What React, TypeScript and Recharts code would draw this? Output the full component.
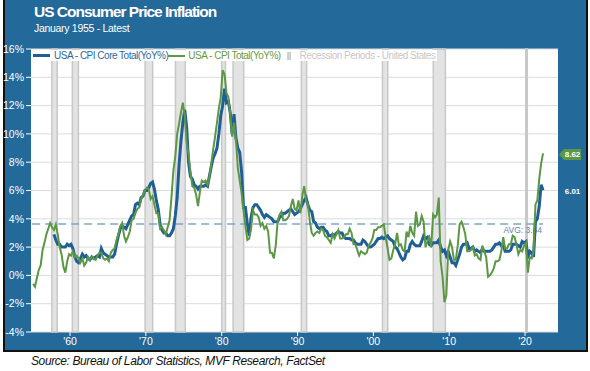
import React from 'react';
import { LineChart, Line, XAxis, YAxis, CartesianGrid, ReferenceArea, ReferenceLine } from 'recharts';

// Quarterly YoY % readings, first quarter of 1955 through May 2022
const startYear = 1955;

const cpiTotal = [
  -0.6, -0.8, -0.2, 0.4, // 1955
  0.7, 1.8, 2.3, 2.9,
  3.3, 3.7, 3.4, 3.2,
  3.6, 2.9, 2.0, 1.5,
  0.6, 0.2, 1.0, 1.5,
  1.4, 1.7, 1.3, 1.4, // 1960
  1.2, 0.9, 1.2, 0.7,
  0.9, 1.3, 1.1, 1.3,
  1.2, 1.1, 1.4, 1.6,
  1.6, 1.2, 1.1, 1.2,
  1.0, 1.6, 1.8, 1.9, // 1965
  2.5, 2.9, 3.5, 3.7,
  2.8, 2.4, 2.7, 3.1,
  3.9, 4.0, 4.4, 4.7,
  4.8, 5.4, 5.7, 6.0,
  6.2, 6.1, 5.4, 5.6, // 1970
  5.0, 4.4, 4.4, 3.3,
  3.4, 3.2, 2.9, 3.4,
  3.9, 5.5, 7.4, 8.4,
  10.0, 10.7, 11.5, 12.2,
  11.3, 9.4, 8.6, 7.3, // 1975
  6.3, 6.2, 5.7, 4.9,
  5.9, 6.7, 6.6, 6.7,
  6.4, 7.0, 7.9, 8.9,
  9.8, 10.8, 11.8, 12.6,
  14.5, 14.2, 12.9, 12.6, // 1980
  11.4, 9.8, 10.8, 9.6,
  7.6, 6.7, 5.8, 4.6,
  3.5, 2.5, 2.6, 3.3,
  4.6, 4.3, 4.3, 4.1,
  3.5, 3.7, 3.3, 3.5, // 1985
  3.1, 1.6, 1.6, 1.2,
  2.1, 3.8, 4.3, 4.5,
  3.9, 3.9, 4.0, 4.2,
  4.9, 5.4, 4.7, 4.6,
  5.3, 4.4, 5.6, 6.3, // 1990
  5.3, 5.0, 3.8, 3.0,
  2.8, 3.0, 3.1, 3.0,
  3.3, 3.2, 2.8, 2.7,
  2.5, 2.3, 2.9, 2.6,
  2.9, 3.2, 2.6, 2.6, // 1995
  2.7, 2.9, 2.9, 3.3,
  3.0, 2.2, 2.2, 1.8,
  1.4, 1.7, 1.6, 1.5,
  1.6, 2.1, 2.3, 2.6,
  3.2, 3.2, 3.4, 3.4, // 2000
  3.5, 3.6, 2.7, 1.9,
  1.1, 1.2, 1.8, 2.2,
  3.0, 2.1, 2.2, 1.8,
  1.7, 3.1, 2.7, 3.5,
  3.0, 2.8, 4.5, 3.5, // 2005
  3.6, 4.2, 3.8, 2.0,
  2.4, 2.7, 2.0, 4.3,
  4.1, 4.3, 5.5, 1.0,
  -0.1, -1.9, -1.4, 1.8,
  2.4, 2.0, 1.1, 1.1, // 2010
  2.1, 3.6, 3.8, 3.4,
  2.9, 1.7, 1.7, 1.8,
  2.0, 1.4, 1.5, 1.2,
  1.1, 2.1, 1.7, 1.3,
  -0.1, 0.0, 0.2, 0.5, // 2015
  1.0, 1.0, 1.1, 1.7,
  2.7, 1.9, 1.9, 2.2,
  2.2, 2.8, 2.7, 2.2,
  1.5, 1.8, 1.7, 2.1,
  2.3, 0.2, 1.3, 1.2, // 2020
  1.7, 5.0, 5.3, 6.8,
  7.9, 8.62,
];

const cpiCore = [
  null, null, null, null, // 1955
  null, null, null, null,
  null, null, null, 2.9,
  2.5, 2.2, 2.2, 2.0,
  2.0, 2.0, 2.2, 2.1,
  2.2, 1.9, 1.3, 1.0, // 1960
  0.9, 1.2, 1.5, 1.3,
  1.4, 1.2, 1.1, 1.3,
  1.2, 1.3, 1.4, 1.3,
  1.9, 1.6, 1.5, 1.4,
  1.3, 1.3, 1.3, 1.5, // 1965
  2.2, 2.8, 3.3, 3.5,
  3.4, 3.3, 3.6, 3.9,
  4.2, 4.3, 5.0, 5.1,
  5.0, 5.5, 5.6, 6.0,
  6.0, 6.2, 6.5, 6.6, // 1970
  6.1, 5.3, 4.7, 3.6,
  3.2, 3.0, 3.0, 2.8,
  2.8, 3.0, 3.3, 4.2,
  5.5, 7.8, 9.5, 10.8,
  11.7, 10.5, 8.0, 7.0, // 1975
  6.8, 6.4, 6.3, 6.1,
  6.3, 6.3, 6.3, 6.4,
  6.3, 7.0, 7.7, 8.3,
  8.6, 9.0, 10.0, 11.3,
  12.0, 13.2, 12.2, 12.3, // 1980
  11.5, 10.0, 11.4, 9.7,
  9.0, 8.7, 7.3, 4.8,
  4.8, 3.7, 2.8, 4.1,
  4.8, 5.0, 5.0, 4.8,
  4.6, 4.3, 4.1, 4.3, // 1985
  4.2, 4.1, 4.0, 3.8,
  3.8, 3.8, 4.1, 4.2,
  4.4, 4.4, 4.5, 4.6,
  4.7, 4.5, 4.3, 4.4,
  4.5, 4.7, 5.0, 5.3, // 1990
  5.5, 5.0, 4.6, 4.5,
  3.8, 3.7, 3.4, 3.3,
  3.4, 3.4, 3.2, 3.1,
  2.8, 2.8, 2.9, 2.8,
  3.0, 3.1, 3.0, 3.0, // 1995
  2.7, 2.6, 2.6, 2.6,
  2.5, 2.5, 2.3, 2.2,
  2.2, 2.2, 2.5, 2.4,
  2.2, 2.0, 2.0, 2.1,
  2.2, 2.4, 2.6, 2.6, // 2000
  2.7, 2.6, 2.7, 2.8,
  2.6, 2.5, 2.4, 2.0,
  1.9, 1.6, 1.3, 1.1,
  1.2, 1.7, 1.7, 2.2,
  2.4, 2.2, 2.1, 2.1, // 2005
  2.1, 2.4, 2.8, 2.6,
  2.7, 2.2, 2.1, 2.3,
  2.3, 2.3, 2.5, 2.0,
  1.7, 1.8, 1.4, 1.7,
  1.3, 0.9, 0.9, 0.7, // 2010
  1.1, 1.5, 2.0, 2.2,
  2.2, 2.3, 1.9, 1.9,
  2.0, 1.7, 1.8, 1.7,
  1.6, 1.9, 1.7, 1.7,
  1.7, 1.7, 1.8, 2.0, // 2015
  2.2, 2.2, 2.3, 2.1,
  2.2, 1.7, 1.7, 1.7,
  1.8, 2.2, 2.2, 2.2,
  2.1, 2.0, 2.4, 2.3,
  2.4, 1.2, 1.7, 1.6, // 2020
  1.3, 3.8, 4.0, 4.9,
  6.4, 6.01,
];

const recessions = [
  [1957.6, 1958.3],
  [1960.3, 1961.1],
  [1969.9, 1970.9],
  [1973.9, 1975.2],
  [1980.0, 1980.5],
  [1981.5, 1982.9],
  [1990.5, 1991.2],
  [2001.2, 2001.9],
  [2007.9, 2009.5],
  [2020.1, 2020.3],
];

const avgValue = 3.64;
const yTicks = [-4, -2, 0, 2, 4, 6, 8, 10, 12, 14, 16];
const decadeTicks = [1960, 1970, 1980, 1990, 2000, 2010, 2020];

const data = cpiTotal.map((total, i) => ({
  date: startYear + i / 4 + 0.125,
  total,
  core: cpiCore[i],
}));

const lastDate = data[data.length - 1].date;
const lastTotal = cpiTotal[cpiTotal.length - 1];
const lastCore = cpiCore[cpiCore.length - 1];

const HEADER = '#23699a';
const CORE = '#1f5f96';
const TOTAL = '#5b9745';
const FONT = '"Liberation Sans", Arial, sans-serif';

const tickStyle = { fill: '#fff', fontSize: 10.5, fontFamily: FONT };

const flag = (text: string, fill: string) => (props: any) => {
  const vb = props.viewBox;
  const x = vb.x + vb.width + 1;
  const y = vb.y + 1;
  return (
    <g>
      <path d={`M${x} ${y} L${x + 5} ${y - 5.5} H${x + 22} V${y + 5.5} H${x + 5} Z`} fill={fill} />
      <text x={x + 13.5} y={y + 3} textAnchor="middle" fill="#fff" fontSize={8} fontWeight="bold" fontFamily={FONT}>
        {text}
      </text>
    </g>
  );
};

const avgLabel = (props: any) => {
  const vb = props.viewBox;
  return (
    <text x={vb.x + vb.width - 1} y={vb.y + 9} textAnchor="end" fill="#5c84ad" fontSize={8.5} fontFamily={FONT}>
      {`AVG: ${avgValue}`}
    </text>
  );
};

export default function App() {
  return (
    <div style={{ position: 'absolute', left: 0, top: 0, width: 590, height: 371, background: '#fff', fontFamily: FONT }}>
      <div style={{ position: 'absolute', left: 3, top: 0, width: 581, height: 350, background: HEADER, border: '2px solid #111', borderTop: 'none' }} />
      <div style={{ position: 'absolute', left: 34, top: 3, color: '#fff', fontWeight: 'bold', fontSize: 15.5, letterSpacing: -1 }}>
        US Consumer Price Inflation
      </div>
      <div style={{ position: 'absolute', left: 34, top: 22, color: '#fff', fontSize: 10.5, letterSpacing: -0.3 }}>
        January 1955 - Latest
      </div>
      <LineChart
        width={590}
        height={371}
        data={data}
        margin={{ top: 49, right: 2, left: 3, bottom: 19 }}
        style={{ position: 'absolute', left: 0, top: 0 }}
      >
        <CartesianGrid vertical={false} stroke="#dcdcdc" fill="#fff" yAxisId="left" />
        <XAxis
          dataKey="date"
          type="number"
          domain={[1954.85, 2024.35]}
          ticks={decadeTicks}
          tickFormatter={(v: number) => `'${String(v).slice(2)}`}
          axisLine={false}
          tickLine={{ stroke: '#fff' }}
          tickSize={4}
          tick={tickStyle}
          height={20}
          allowDataOverflow
        />
        <YAxis
          yAxisId="left"
          domain={[-4, 16]}
          ticks={yTicks}
          tickFormatter={(v: number) => `${v}%`}
          axisLine={false}
          tickLine={{ stroke: '#fff' }}
          tickSize={5}
          tick={tickStyle}
          width={28}
          interval={0}
        />
        <YAxis
          yAxisId="right"
          orientation="right"
          domain={[-4, 16]}
          ticks={yTicks}
          tickFormatter={(v: number) => `${v}%`}
          axisLine={false}
          tickLine={{ stroke: '#fff' }}
          tickSize={5}
          tick={{ ...tickStyle, textAnchor: 'start' }}
          width={30}
          interval={0}
        />
        {recessions.map(([a, b]) => (
          <ReferenceArea
            key={a}
            yAxisId="left"
            x1={a}
            x2={b}
            fill="#e3e3e3"
            fillOpacity={1}
            stroke="#c8c8c8"
            strokeWidth={1.5}
          />
        ))}
        <ReferenceLine
          yAxisId="left"
          segment={[{ x: 1955.0, y: avgValue }, { x: lastDate, y: avgValue }]}
          stroke="#7ea7cc"
          strokeWidth={1.5}
          strokeDasharray="8 5"
          label={avgLabel}
        />
        <Line
          yAxisId="left"
          type="linear"
          dataKey="core"
          stroke={CORE}
          strokeWidth={3}
          dot={false}
          connectNulls={false}
          isAnimationActive={false}
        />
        <Line
          yAxisId="left"
          type="linear"
          dataKey="total"
          stroke={TOTAL}
          strokeWidth={2}
          dot={false}
          isAnimationActive={false}
        />
        <ReferenceLine yAxisId="left" y={lastTotal} stroke="none" label={flag(lastTotal.toFixed(2), TOTAL)} />
        <ReferenceLine yAxisId="left" y={lastCore} stroke="none" label={flag(lastCore.toFixed(2), HEADER)} />
      </LineChart>
      <div
        style={{
          position: 'absolute', left: 33, top: 50, height: 11, paddingRight: 2, background: '#fff',
          display: 'flex', alignItems: 'center', fontSize: 10, letterSpacing: -0.5, whiteSpace: 'nowrap', lineHeight: '11px',
        }}
      >
        <span style={{ width: 17, height: 3, background: CORE, marginRight: 4 }} />
        <span style={{ color: '#2c6aa0' }}>USA - CPI Core Total(YoY%)</span>
        <span style={{ width: 17, height: 2, background: TOTAL, marginRight: 3 }} />
        <span style={{ color: '#6b9a3e' }}>USA - CPI Total(YoY%)</span>
        <span style={{ width: 4, height: 8, background: '#cfcfcf', marginLeft: 6, marginRight: 9 }} />
        <span style={{ color: '#c8c8c8' }}>Recession Periods - United States</span>
      </div>
      <div style={{ position: 'absolute', left: 31, top: 354, fontStyle: 'italic', fontSize: 12, color: '#111', letterSpacing: -0.4 }}>
        Source: Bureau of Labor Statistics, MVF Research, FactSet
      </div>
    </div>
  );
}
